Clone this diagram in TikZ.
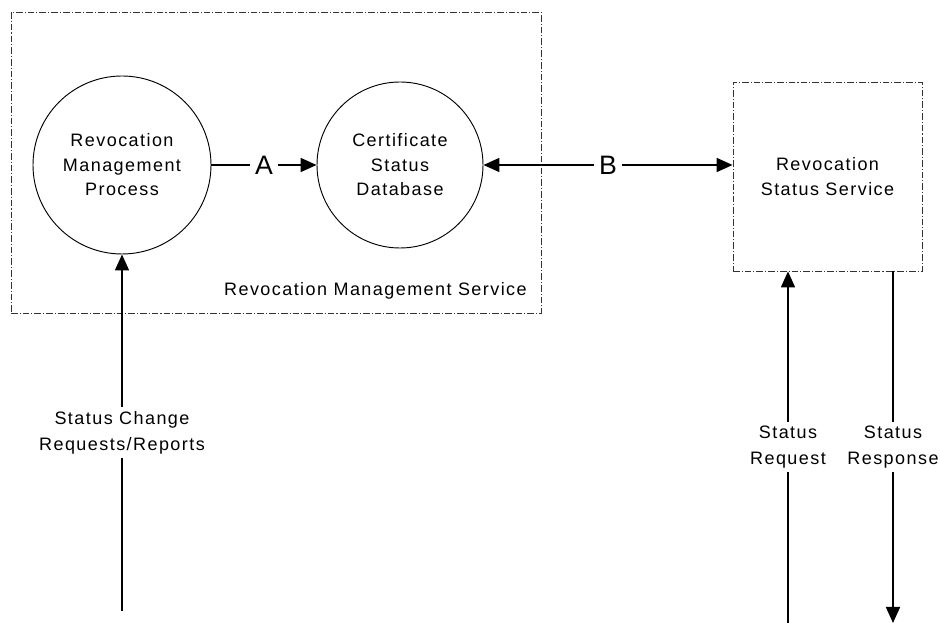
\documentclass[tikz,border=0pt]{standalone}
\usepackage{fontspec}
\setmainfont{Liberation Sans}[LetterSpace=8]
\newfontfamily\letterfont{Liberation Sans}
\usetikzlibrary{arrows.meta,positioning}
\tikzset{
  flowtip/.tip={Triangle[length=12pt,width=10.5pt]},
  proc/.style={circle, draw, line width=0.7pt, align=center, font=\fontsize{13.5}{18.4}\selectfont},
  service/.style={draw=black!80, line width=0.6pt, dash pattern=on 5pt off 1.5pt on 0.8pt off 1.5pt},
  flow/.style={line width=1.3pt, -flowtip},
  flowlabel/.style={fill=white, align=center, inner sep=3pt, font=\fontsize{13.5}{19.5}\selectfont},
  letter/.style={fill=white, inner sep=4pt, font=\letterfont\fontsize{20}{20}\selectfont}
}
\begin{document}
\begin{tikzpicture}[x=0.75pt, y=-0.75pt]
    \useasboundingbox (0,0) rectangle (940,623);
    % services
    \node[service, minimum width=397.5pt, minimum height=225.75pt] (rms) at (276,162.5) {};
    \node[service, align=center, minimum size=141.75pt, font=\fontsize{13.5}{18.75}\selectfont] (rss) at (827.5,176.5) {Revocation\\Status Service};
    \node[anchor=east, inner sep=0pt, font=\fontsize{13.5}{18.75}\selectfont] (rmslabel) at (527,291) {Revocation Management Service};
    % processes
    \node[proc, minimum size=133.5pt] (rmp) at (122,165) {Revocation\\Management\\Process};
    \node[proc, minimum size=124.5pt] (csd) at (400,165) {Certificate\\Status\\Database};
    % free ends
    \coordinate (chg) at (122,611);
    \coordinate (req) at (788,623);
    \coordinate (resp) at (893,623);
    \draw[flow] (rmp) -- node[letter]{A} (csd);
    \draw[flow, flowtip-flowtip] (csd.east) -- node[letter]{B} (csd.east -| rss.west);
    \draw[flow] (chg) -- node[flowlabel]{Status Change\\Requests/Reports} (rmp);
    \draw[flow] (req) -- node[flowlabel]{Status\\Request} (req |- rss.south);
    \draw[flow] (resp |- rss.south) -- node[flowlabel]{Status\\Response} (resp);
\end{tikzpicture}
\end{document}
